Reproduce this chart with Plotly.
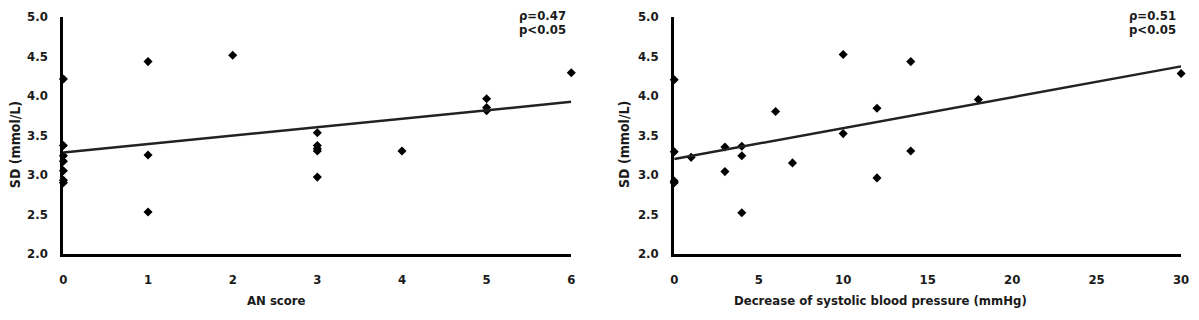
import plotly.graph_objects as go

# ---- data ----
an_score = [0, 0, 0, 0, 0, 0, 0, 1, 1, 1, 2, 3, 3, 3, 3, 3, 4, 5, 5, 5, 6]
sd_left = [4.21, 3.37, 3.24, 3.17, 3.05, 2.93, 2.90, 4.43, 3.25, 2.53, 4.51,
           3.53, 3.37, 3.33, 3.30, 2.97, 3.30, 3.96, 3.85, 3.81, 4.29]

sbp_drop = [0, 0, 0, 0, 1, 3, 3, 4, 4, 4, 6, 7, 10, 10, 12, 12, 14, 14, 18, 30]
sd_right = [4.20, 3.29, 2.92, 2.90, 3.22, 3.35, 3.04, 3.36, 3.24, 2.52, 3.80,
            3.15, 4.52, 3.52, 3.84, 2.96, 4.43, 3.30, 3.95, 4.28]

left_fit = [3.28, 0.107]    # intercept, slope
right_fit = [3.20, 0.039]   # intercept, slope
left_xrange = [0, 6]
right_xrange = [0, 30]
y_range = [2.0, 5.0]

left_stats = ["ρ=0.47", "p<0.05"]
right_stats = ["ρ=0.51", "p<0.05"]
left_xtitle = "AN score"
right_xtitle = "Decrease of systolic blood pressure (mmHg)"
ytitle = "SD (mmol/L)"

W, H = 1199, 320
FONT = "DejaVu Sans Condensed, DejaVu Sans, sans-serif"
TXT = "#1a1a1a"


def px_x(p):
    return p / W


def px_y(p):
    return 1 - p / H


fig = go.Figure()

marker = dict(symbol="diamond", size=7, color="black")
fig.add_trace(go.Scatter(x=an_score, y=sd_left, mode="markers", marker=marker,
                         cliponaxis=False, xaxis="x", yaxis="y", showlegend=False))
fig.add_trace(go.Scatter(x=left_xrange,
                         y=[left_fit[0] + left_fit[1] * v for v in left_xrange],
                         mode="lines", line=dict(color="#222", width=2.5),
                         cliponaxis=False, xaxis="x", yaxis="y", showlegend=False))
fig.add_trace(go.Scatter(x=sbp_drop, y=sd_right, mode="markers", marker=marker,
                         cliponaxis=False, xaxis="x2", yaxis="y2", showlegend=False))
fig.add_trace(go.Scatter(x=right_xrange,
                         y=[right_fit[0] + right_fit[1] * v for v in right_xrange],
                         mode="lines", line=dict(color="#222", width=2.5),
                         cliponaxis=False, xaxis="x2", yaxis="y2", showlegend=False))

tickfont = dict(family=FONT, size=13, color=TXT, weight="bold")
ydom = [px_y(259), px_y(10)]


def xax(dom, rng, dtick, anchor):
    return dict(domain=dom, range=rng, dtick=dtick, tick0=0, showline=True,
                linecolor="black", linewidth=3, showgrid=False, zeroline=False,
                ticks="", tickfont=tickfont, ticklabelstandoff=12, anchor=anchor,
                fixedrange=True)


def yax(anchor):
    return dict(domain=ydom, range=y_range, dtick=0.5, tick0=2, tickformat=".1f",
                showline=True, linecolor="black", linewidth=3, showgrid=False,
                zeroline=False, ticks="", tickfont=tickfont, ticklabelstandoff=10,
                anchor=anchor, fixedrange=True)


annotations = []
titlefont = dict(family=FONT, size=13, color=TXT, weight="bold")
ytitlefont = dict(family=FONT, size=14, color=TXT, weight="bold")
statfont = dict(family=FONT, size=13, color=TXT, weight="bold")


def ann(text, xp, yp, font, xanchor="center", angle=0):
    return dict(text=text, x=px_x(xp), y=px_y(yp), xref="paper", yref="paper",
                xanchor=xanchor, yanchor="middle", showarrow=False,
                textangle=angle, font=font)


annotations.append(ann(left_xtitle, 275, 308, titlefont))
annotations.append(ann(right_xtitle, 885, 308, titlefont))
annotations.append(ann(ytitle, 11, 144, ytitlefont, angle=-90))
annotations.append(ann(ytitle, 627, 144, ytitlefont, angle=-90))
for i, s in enumerate(left_stats):
    annotations.append(ann(s, 570, 9 + 15 * i, statfont, xanchor="right"))
for i, s in enumerate(right_stats):
    annotations.append(ann(s, 1186, 9 + 15 * i, statfont, xanchor="right"))

fig.update_layout(
    width=W, height=H,
    margin=dict(l=0, r=0, t=0, b=0),
    paper_bgcolor="white", plot_bgcolor="white",
    xaxis=xax([px_x(60), px_x(573)], left_xrange, 1, "y"),
    yaxis=yax("x"),
    xaxis2=xax([px_x(677), px_x(1189)], right_xrange, 5, "y2"),
    yaxis2=yax("x2"),
    annotations=annotations,
    showlegend=False,
)

post = (
    "document.documentElement.style.margin='0';"
    "document.documentElement.style.padding='0';"
    "document.documentElement.style.overflow='hidden';"
    "document.body.style.margin='0';document.body.style.padding='0';"
    "document.body.style.overflow='hidden';"
    "var d=document.getElementById('{plot_id}');"
    "d.style.position='fixed';d.style.top='0px';d.style.left='0px';"
)

fig.write_html("out.html", config={"displayModeBar": False}, post_script=post)
